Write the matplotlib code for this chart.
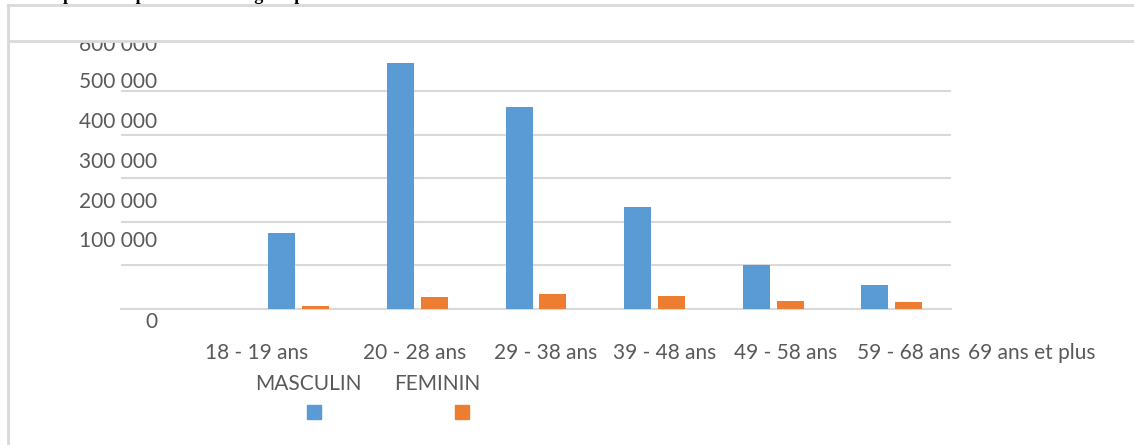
import matplotlib
matplotlib.use('Agg')
import matplotlib.pyplot as plt
from matplotlib.lines import Line2D
from matplotlib.patches import Rectangle

# data (effectifs par tranche d'age)
categories = ['18 - 19 ans', '20 - 28 ans', '29 - 38 ans', '39 - 48 ans',
              '49 - 58 ans', '59 - 68 ans', '69 ans et plus']
masculin = [174000, 564000, 463000, 233000, 100000, 55000, 0]
feminin = [6000, 27000, 33000, 29000, 17000, 14500, 0]
y_ticks = [0, 100000, 200000, 300000, 400000, 500000, 600000]
y_labels = ['0', '100 000', '200 000', '300 000', '400 000', '500 000', '600 000']

W, H = 1134, 445
BLUE = '#5B9BD5'
ORANGE = '#ED7D31'
GREY_TXT = '#595959'
GREY_LINE = '#D9D9D9'
FONT = 'Lato'


def fx(x):
    return x / W


def fy(y):
    return 1 - y / H


fig = plt.figure(figsize=(W / 100, H / 100), dpi=100)

# plot area (pixels: left 121, right 951, top 41, bottom 308.5)
ax = fig.add_axes([fx(121), fy(308.5), (951 - 121) / W, (308.5 - 41) / H])
px_per_100k = 43.5
ax.set_ylim(0, (308.5 - 41) / px_per_100k * 100000)
ax.set_xlim(-0.5, 6.5)

# bars sit one slot to the right, like in the original sheet
slots = [i + 1 for i in range(len(categories))]
w = 0.228
off = 0.143
ax.bar([s - off for s in slots], masculin, width=w, color=BLUE, zorder=3)
ax.bar([s + off for s in slots], feminin, width=w, color=ORANGE, zorder=3)

ax.set_yticks(y_ticks[:-1])
ax.set_yticklabels([])
ax.set_xticks([])
ax.tick_params(left=False, bottom=False)
ax.yaxis.grid(True, color=GREY_LINE, linewidth=1.5)
ax.set_axisbelow(True)
for side in ['left', 'right', 'top']:
    ax.spines[side].set_visible(False)
ax.spines['bottom'].set_color(GREY_LINE)
ax.spines['bottom'].set_linewidth(1.5)

# y labels (placement as in the source chart)
ylabel_px = [322, 240.5, 201.7, 162.3, 122.5, 82.5, 45]
for lab, yp in zip(y_labels, ylabel_px):
    fig.text(fx(157.5), fy(yp), lab, ha='right', va='center',
             fontsize=15, color=GREY_TXT, family=FONT)

# x labels
xlabel_px = [257, 414.7, 545.3, 664.5, 786, 908.5, 1032]
for lab, xp in zip(categories, xlabel_px):
    fig.text(fx(xp), fy(353), lab, ha='center', va='center',
             fontsize=15, color=GREY_TXT, family=FONT)

# legend
fig.text(fx(308.5), fy(383.5), 'MASCULIN', ha='center', va='center',
         fontsize=15, color=GREY_TXT, family=FONT)
fig.text(fx(437.5), fy(383.5), 'FEMININ', ha='center', va='center',
         fontsize=15, color=GREY_TXT, family=FONT)
fig.patches.append(Rectangle((fx(307), fy(419)), 14 / W, 14 / H,
                             transform=fig.transFigure, color=BLUE))
fig.patches.append(Rectangle((fx(455), fy(419)), 14 / W, 14 / H,
                             transform=fig.transFigure, color=ORANGE))

# white band hiding top of the chart (cuts the 600 000 label)
fig.patches.append(Rectangle((fx(9), fy(41)), 1, (41 - 5) / H,
                             transform=fig.transFigure, color='white', zorder=5))

# frame lines
for xs, ys in [([8, W], [4.5, 4.5]), ([8, W], [41, 41]), ([8, 8], [4.5, H])]:
    fig.add_artist(Line2D([fx(v) for v in xs], [fy(v) for v in ys],
                          color=GREY_LINE, linewidth=2, zorder=6))

# title, cut off at the top of the image
fig.text(fx(42), fy(0), "Répartition par tranche d'âge et par sexe",
         ha='left', va='baseline', fontsize=13, fontweight='bold',
         family='Liberation Serif', color='black', zorder=7)

fig.savefig('out.png', dpi=100)
